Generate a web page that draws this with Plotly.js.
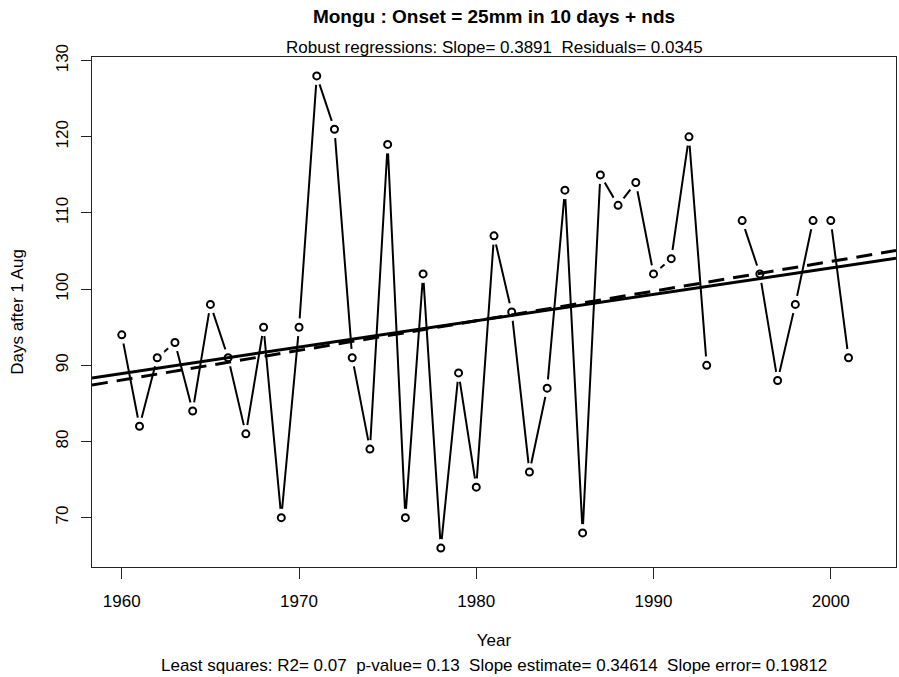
<!DOCTYPE html>
<html>
<head>
<meta charset="utf-8">
<script src="https://cdn.plot.ly/plotly-3.0.1.min.js"></script>
<style>html,body{margin:0;padding:0;background:#fff;}#chart{width:899px;height:677px;}</style>
</head>
<body>
<div id="chart"></div>
<script>
// ---- data ----
const years = [1960,1961,1962,1963,1964,1965,1966,1967,1968,1969,
               1970,1971,1972,1973,1974,1975,1976,1977,1978,1979,
               1980,1981,1982,1983,1984,1985,1986,1987,1988,1989,
               1990,1991,1992,1993,1994,1995,1996,1997,1998,1999,
               2000,2001,2002];
const onsetDays = [94,82,91,93,84,98,91,81,95,70,
                   95,128,121,91,79,119,70,102,66,89,
                   74,107,97,76,87,113,68,115,111,114,
                   102,104,120,90,null,109,102,88,98,109,
                   109,91,null];
const xTicks = [1960,1970,1980,1990,2000];
const yTicks = [70,80,90,100,110,120,130];
// regression parameters (slope, value at reference year)
const lsSlope = 0.34614, lsRefYear = 1980, lsRefValue = 95.85;
const robSlope = 0.3891, robRefYear = 1980, robRefValue = 95.85;

const titleText = "Mongu : Onset = 25mm in 10 days + nds";
const subText = "Robust regressions: Slope= 0.3891  Residuals= 0.0345";
const bottomText = "Least squares: R2= 0.07  p-value= 0.13  Slope estimate= 0.34614  Slope error= 0.19812";
const xLabel = "Year";
const yLabel = "Days after 1 Aug";

// axis ranges like R (4% extension)
const validY = onsetDays.filter(v => v !== null);
const xMin = Math.min(...years), xMax = Math.max(...years);
const yMin = Math.min(...validY), yMax = Math.max(...validY);
const xr = [xMin - 0.04*(xMax-xMin), xMax + 0.04*(xMax-xMin)];
const yr = [yMin - 0.04*(yMax-yMin), yMax + 0.04*(yMax-yMin)];

const lineX = [xr[0], xr[1]];
const lsY = lineX.map(x => lsRefValue + lsSlope*(x - lsRefYear));
const robY = lineX.map(x => robRefValue + robSlope*(x - robRefYear));

const FONT = "Liberation Sans, Arial, sans-serif";
const FS = 17;

const traces = [
  {x: years, y: onsetDays, mode: 'lines', connectgaps: false,
   line: {color: '#000', width: 2}, hoverinfo: 'skip', showlegend: false},
  // white gaps around points (R type="b")
  {x: years, y: onsetDays, mode: 'markers',
   marker: {symbol: 'circle', size: 18, color: '#fff', line: {width: 0}}, hoverinfo: 'skip', showlegend: false},
  {x: years, y: onsetDays, mode: 'markers',
   marker: {symbol: 'circle', size: 7, color: '#fff', line: {color: '#000', width: 2}}, showlegend: false},
  {x: lineX, y: lsY, mode: 'lines', line: {color: '#000', width: 3}, showlegend: false, hoverinfo: 'skip'},
  {x: lineX, y: robY, mode: 'lines', line: {color: '#000', width: 3, dash: '16px,9px'}, showlegend: false, hoverinfo: 'skip'}
];

const axisCommon = {
  showgrid: false, zeroline: false, showline: true, mirror: true,
  linecolor: '#222', linewidth: 1, ticks: 'outside', tickcolor: '#222', tickwidth: 1,
  tickfont: {family: FONT, size: FS, color: '#000'}
};

const layout = {
  width: 899, height: 677,
  paper_bgcolor: '#fff', plot_bgcolor: '#fff',
  margin: {l: 92, r: 3, t: 57, b: 110},
  font: {family: FONT, color: '#000'},
  title: {text: '<b>' + titleText + '</b>', font: {family: FONT, size: 19, color: '#000'},
          x: 0.5, xref: 'paper', xanchor: 'center', y: 1 - 16/677, yref: 'container', yanchor: 'middle'},
  xaxis: Object.assign({}, axisCommon, {
    range: xr, tickvals: xTicks, ticktext: xTicks.map(String), ticklen: 11,
    ticklabelstandoff: 8,
    title: {text: xLabel, font: {family: FONT, size: FS, color: '#000'}, standoff: 23}
  }),
  yaxis: Object.assign({}, axisCommon, {
    range: yr, tickvals: yTicks, ticktext: yTicks.map(String), ticklen: 10, tickangle: -90,
    ticklabelstandoff: 6,
    title: {text: yLabel, font: {family: FONT, size: FS, color: '#000'}, standoff: 25}
  }),
  annotations: [
    {text: subText, xref: 'paper', yref: 'paper', x: 0.5, y: (567-47)/510, xanchor: 'center', yanchor: 'middle',
     showarrow: false, font: {family: FONT, size: FS, color: '#000'}},
    {text: bottomText, xref: 'paper', yref: 'paper', x: 0.5, y: (567-665)/510, xanchor: 'center', yanchor: 'middle',
     showarrow: false, font: {family: FONT, size: FS, color: '#000'}}
  ]
};

Plotly.newPlot('chart', traces, layout, {displayModeBar: false, staticPlot: true});
</script>
</body>
</html>
